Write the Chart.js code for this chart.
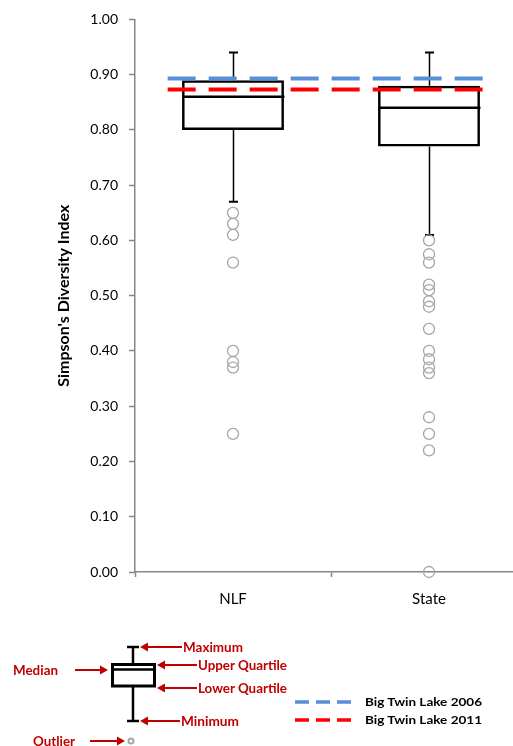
<!DOCTYPE html>
<html><head><meta charset="utf-8">
<script src="https://cdn.jsdelivr.net/npm/chart.js@4.4.0/dist/chart.umd.min.js"></script>
<style>
html,body{margin:0;padding:0;background:#fff;overflow:hidden;width:513px;height:746px;}
#wrap{position:absolute;left:0;top:0;width:540px;height:620px;}
#key{position:absolute;left:0;top:0;pointer-events:none;}
</style></head><body>
<div id="wrap"><canvas id="c"></canvas></div>
<svg id="key" width="513" height="746" viewBox="0 0 513 746" xmlns="http://www.w3.org/2000/svg">
 <g stroke="#000" fill="none">
  <line x1="133" y1="647" x2="133" y2="664" stroke-width="2.5"/>
  <line x1="127" y1="647" x2="139" y2="647" stroke-width="2.5"/>
  <line x1="133" y1="686" x2="133" y2="721" stroke-width="2.5"/>
  <line x1="127" y1="721" x2="139" y2="721" stroke-width="2.5"/>
  <rect x="112.5" y="664.5" width="42" height="21.5" stroke-width="3"/>
  <line x1="112" y1="669.5" x2="155" y2="669.5" stroke-width="2.5"/>
 </g>
 <circle cx="131" cy="741" r="2.5" stroke="#A6A6A6" stroke-width="2" fill="none"/>
 <g stroke="#C00000" stroke-width="2">
  <line x1="146" y1="647" x2="182" y2="647"/>
  <line x1="163" y1="665" x2="197" y2="665"/>
  <line x1="163" y1="688" x2="197" y2="688"/>
  <line x1="146" y1="721" x2="180" y2="721"/>
  <line x1="75" y1="670" x2="102" y2="670"/>
  <line x1="90" y1="741" x2="119" y2="741"/>
 </g>
 <g fill="#C00000">
  <polygon points="140,647 148,642.5 148,651.5"/>
  <polygon points="157,665 165,660.5 165,669.5"/>
  <polygon points="157,688 165,683.5 165,692.5"/>
  <polygon points="140,721 148,716.5 148,725.5"/>
  <polygon points="108,670 100,665.5 100,674.5"/>
  <polygon points="125,741 117,736.5 117,745.5"/>
 </g>
 <g fill="#C00000" font-family="Lato" font-weight="bold" font-size="13">
  <text x="183" y="651.5" textLength="60" lengthAdjust="spacingAndGlyphs">Maximum</text>
  <text x="198" y="669.5" textLength="89" lengthAdjust="spacingAndGlyphs">Upper Quartile</text>
  <text x="198" y="692.5" textLength="89" lengthAdjust="spacingAndGlyphs">Lower Quartile</text>
  <text x="181" y="725.5" textLength="58" lengthAdjust="spacingAndGlyphs">Minimum</text>
  <text x="13" y="674.5" textLength="45" lengthAdjust="spacingAndGlyphs">Median</text>
  <text x="33" y="745.5" textLength="42" lengthAdjust="spacingAndGlyphs">Outlier</text>
 </g>
 <line x1="295" y1="702" x2="352" y2="702" stroke="#5A8FD8" stroke-width="3.5" stroke-dasharray="14 7"/>
 <line x1="295" y1="720" x2="352" y2="720" stroke="#FF0000" stroke-width="3.5" stroke-dasharray="14 7"/>
 <g fill="#000" font-family="Lato" font-weight="bold" font-size="12">
  <text id="lg0" x="365" y="706" textLength="117" lengthAdjust="spacingAndGlyphs"></text>
  <text id="lg1" x="365" y="724" textLength="117" lengthAdjust="spacingAndGlyphs"></text>
 </g>
</svg>
<script>
const categories = ['NLF', 'State'];
const minimum = [0.67, 0.61];
const lowerQuartile = [0.80, 0.77];
const median = [0.86, 0.84];
const upperQuartile = [0.89, 0.88];
const maximum = [0.94, 0.94];
const outliersNLF = [0.65, 0.63, 0.61, 0.56, 0.40, 0.38, 0.37, 0.25];
const outliersState = [0.60, 0.575, 0.56, 0.52, 0.51, 0.49, 0.48, 0.44, 0.40, 0.385, 0.37, 0.36, 0.28, 0.25, 0.22, 0.00];
const yTickValues = [0.00, 0.10, 0.20, 0.30, 0.40, 0.50, 0.60, 0.70, 0.80, 0.90, 1.00];
const lake2006 = 0.893;
const lake2011 = 0.873;
const lineLabels = ['Big Twin Lake 2006', 'Big Twin Lake 2011'];

document.getElementById('lg0').textContent = lineLabels[0];
document.getElementById('lg1').textContent = lineLabels[1];

const whiskerPlugin = {
  id: 'whiskers',
  afterDatasetDraw(chart, args) {
    if (args.index !== 0) return;
    const meta = chart.getDatasetMeta(0);
    const y = chart.scales.y;
    const ctx = chart.ctx;
    ctx.save();
    ctx.strokeStyle = '#000';
    meta.data.forEach((bar, i) => {
      const x = Math.round(bar.x) + 0.5;
      const half = bar.width / 2;
      ctx.lineWidth = 1.5;
      ctx.beginPath();
      ctx.moveTo(x, y.getPixelForValue(upperQuartile[i]));
      ctx.lineTo(x, y.getPixelForValue(maximum[i]));
      ctx.moveTo(x, y.getPixelForValue(lowerQuartile[i]));
      ctx.lineTo(x, y.getPixelForValue(minimum[i]));
      ctx.stroke();
      ctx.lineWidth = 2;
      ctx.beginPath();
      [maximum[i], minimum[i]].forEach(v => {
        const py = y.getPixelForValue(v);
        ctx.moveTo(x - 4.5, py);
        ctx.lineTo(x + 4.5, py);
      });
      ctx.stroke();
      ctx.lineWidth = 2.5;
      ctx.beginPath();
      const pm = y.getPixelForValue(median[i]);
      ctx.moveTo(x - half, pm);
      ctx.lineTo(x + half, pm);
      ctx.stroke();
    });
    ctx.restore();
  }
};

const outlierStyle = {
  type: 'line', showLine: false, pointStyle: 'circle', pointRadius: 5.5,
  pointBorderColor: '#A6A6A6', pointBackgroundColor: 'rgba(0,0,0,0)', pointBorderWidth: 1.3,
  order: 1, clip: false
};

new Chart(document.getElementById('c'), {
  type: 'bar',
  data: {
    labels: categories,
    datasets: [
      {
        type: 'bar',
        data: categories.map((c, i) => [lowerQuartile[i], upperQuartile[i]]),
        backgroundColor: 'rgba(255,255,255,0)',
        borderColor: '#000', borderWidth: 2.5, borderSkipped: false,
        grouped: false,
        barPercentage: 0.52, categoryPercentage: 1, order: 2
      },
      Object.assign({ data: outliersNLF.map(v => ({ x: categories[0], y: v })) }, outlierStyle),
      Object.assign({ data: outliersState.map(v => ({ x: categories[1], y: v })) }, outlierStyle),
      {
        type: 'line', xAxisID: 'x2', label: lineLabels[0],
        data: [{ x: 0, y: lake2006 }, { x: 1, y: lake2006 }],
        borderColor: '#5A8FD8', borderWidth: 4, borderDash: [28, 13], pointRadius: 0, order: 0, clip: false
      },
      {
        type: 'line', xAxisID: 'x2', label: lineLabels[1],
        data: [{ x: 0, y: lake2011 }, { x: 1, y: lake2011 }],
        borderColor: '#FF0000', borderWidth: 4, borderDash: [28, 13], pointRadius: 0, order: 0, clip: false
      }
    ]
  },
  options: {
    responsive: true, maintainAspectRatio: false, animation: false,
    layout: { padding: { top: 18, left: 0, right: 13, bottom: 0 } },
    plugins: { legend: { display: false }, tooltip: { enabled: false } },
    scales: {
      x: {
        type: 'category', offset: true,
        grid: { offset: true, drawOnChartArea: false, tickLength: 5, tickColor: '#868686', tickWidth: 1.5 },
        border: { color: '#868686', width: 1.5 },
        ticks: { font: { family: 'Lato', size: 15 }, color: '#000', padding: 13 },
        afterFit: s => { s.height = 48; }
      },
      x2: { type: 'linear', min: 0, max: 1, display: false },
      y: {
        min: 0, max: 1,
        afterBuildTicks: s => { s.ticks = yTickValues.map(v => ({ value: v })); },
        ticks: { callback: v => Number(v).toFixed(2), font: { family: 'Lato', size: 14 }, color: '#000', padding: 11 },
        grid: { drawOnChartArea: false, tickLength: 6, tickColor: '#868686', tickWidth: 1.5 },
        border: { color: '#868686', width: 1.5 },
        title: { display: true, text: "Simpson's Diversity Index", font: { family: 'Lato', size: 16, weight: 'bold' }, color: '#000', padding: { top: 54, bottom: 0 } },
        afterFit: s => { s.width = 135; }
      }
    }
  },
  plugins: [whiskerPlugin]
});
</script>
</body></html>
